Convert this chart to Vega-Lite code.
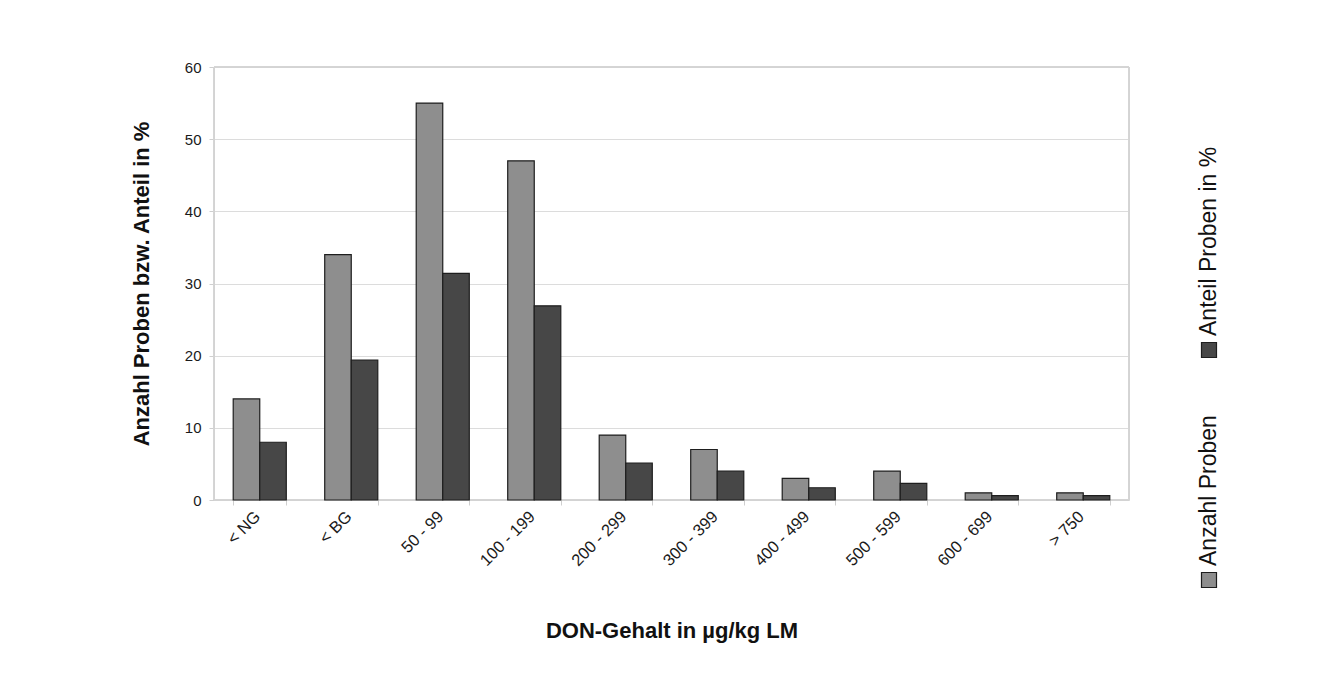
{
  "$schema": "https://vega.github.io/schema/vega-lite/v6.json",
  "background": "white",
  "padding": {"left": 130, "top": 60, "right": 5, "bottom": 5},
  "config": {
    "font": "Liberation Sans",
    "view": {"stroke": null},
    "axis": {
      "labelFont": "Liberation Sans",
      "titleFont": "Liberation Sans",
      "labelColor": "#1a1a1a",
      "titleColor": "#111111",
      "domainColor": "#cfcfcf",
      "tickColor": "#cfcfcf",
      "gridColor": "#dcdcdc"
    }
  },
  "datasets": {
    "don": [
      {"klasse": "< NG", "reihe": "Anzahl Proben", "wert": 14},
      {"klasse": "< NG", "reihe": "Anteil Proben in %", "wert": 8.0},
      {"klasse": "< BG", "reihe": "Anzahl Proben", "wert": 34},
      {"klasse": "< BG", "reihe": "Anteil Proben in %", "wert": 19.4},
      {"klasse": "50 - 99", "reihe": "Anzahl Proben", "wert": 55},
      {"klasse": "50 - 99", "reihe": "Anteil Proben in %", "wert": 31.4},
      {"klasse": "100 - 199", "reihe": "Anzahl Proben", "wert": 47},
      {"klasse": "100 - 199", "reihe": "Anteil Proben in %", "wert": 26.9},
      {"klasse": "200 - 299", "reihe": "Anzahl Proben", "wert": 9},
      {"klasse": "200 - 299", "reihe": "Anteil Proben in %", "wert": 5.1},
      {"klasse": "300 - 399", "reihe": "Anzahl Proben", "wert": 7},
      {"klasse": "300 - 399", "reihe": "Anteil Proben in %", "wert": 4.0},
      {"klasse": "400 - 499", "reihe": "Anzahl Proben", "wert": 3},
      {"klasse": "400 - 499", "reihe": "Anteil Proben in %", "wert": 1.7},
      {"klasse": "500 - 599", "reihe": "Anzahl Proben", "wert": 4},
      {"klasse": "500 - 599", "reihe": "Anteil Proben in %", "wert": 2.3},
      {"klasse": "600 - 699", "reihe": "Anzahl Proben", "wert": 1},
      {"klasse": "600 - 699", "reihe": "Anteil Proben in %", "wert": 0.6},
      {"klasse": "> 750", "reihe": "Anzahl Proben", "wert": 1},
      {"klasse": "> 750", "reihe": "Anteil Proben in %", "wert": 0.6}
    ],
    "legende": [
      {"reihe": "Anteil Proben in %"},
      {"reihe": "Anzahl Proben"}
    ]
  },
  "hconcat": [
    {
      "width": 915,
      "height": 433,
      "data": {"name": "don"},
      "layer": [
        {
          "mark": {"type": "rect", "fill": null, "stroke": "#d4d4d4", "strokeWidth": 1},
          "encoding": {}
        },
        {
          "mark": {"type": "bar", "stroke": "#1e1e1e", "strokeWidth": 1.2},
          "encoding": {
            "x": {
              "field": "klasse",
              "type": "nominal",
              "sort": null,
              "scale": {"paddingInner": 0.42, "paddingOuter": 0.21},
              "axis": {
                "title": "DON-Gehalt in µg/kg LM",
                "titleFontSize": 22,
                "titleFontWeight": "bold",
                "titlePadding": 52,
                "labelAngle": -45,
                "labelFontSize": 16.5,
                "labelPadding": 3,
                "labelOffset": -8,
                "tickBand": "extent",
                "tickSize": 5
              }
            },
            "xOffset": {
              "field": "reihe",
              "type": "nominal",
              "sort": ["Anzahl Proben", "Anteil Proben in %"],
              "scale": {"paddingInner": 0, "paddingOuter": 0}
            },
            "y": {
              "field": "wert",
              "type": "quantitative",
              "scale": {"domain": [0, 60]},
              "axis": {
                "title": "Anzahl Proben bzw. Anteil in %",
                "titleFontSize": 22,
                "titleFontWeight": "bold",
                "titlePadding": 31,
                "labelFontSize": 15,
                "labelPadding": 8,
                "tickCount": 6,
                "tickSize": 5,
                "grid": true
              }
            },
            "color": {
              "field": "reihe",
              "type": "nominal",
              "scale": {
                "domain": ["Anzahl Proben", "Anteil Proben in %"],
                "range": ["#8e8e8e", "#474747"]
              },
              "legend": null
            }
          }
        }
      ]
    },
    {
      "width": 20,
      "height": 540,
      "data": {"name": "legende"},
      "encoding": {
        "y": {
          "field": "reihe",
          "type": "nominal",
          "sort": null,
          "scale": {"type": "point", "range": [283, 513], "padding": 0},
          "axis": null
        },
        "color": {
          "field": "reihe",
          "type": "nominal",
          "scale": {
            "domain": ["Anzahl Proben", "Anteil Proben in %"],
            "range": ["#8e8e8e", "#474747"]
          },
          "legend": null
        }
      },
      "layer": [
        {
          "mark": {"type": "point", "shape": "square", "size": 225, "filled": true, "stroke": "#1e1e1e", "strokeWidth": 1.2, "opacity": 1}
        },
        {
          "mark": {"type": "text", "angle": 270, "align": "left", "baseline": "middle", "dx": 14, "fontSize": 23, "color": "#111111"},
          "encoding": {"text": {"field": "reihe"}, "color": {"value": "#111111"}}
        }
      ]
    }
  ],
  "spacing": 67
}
